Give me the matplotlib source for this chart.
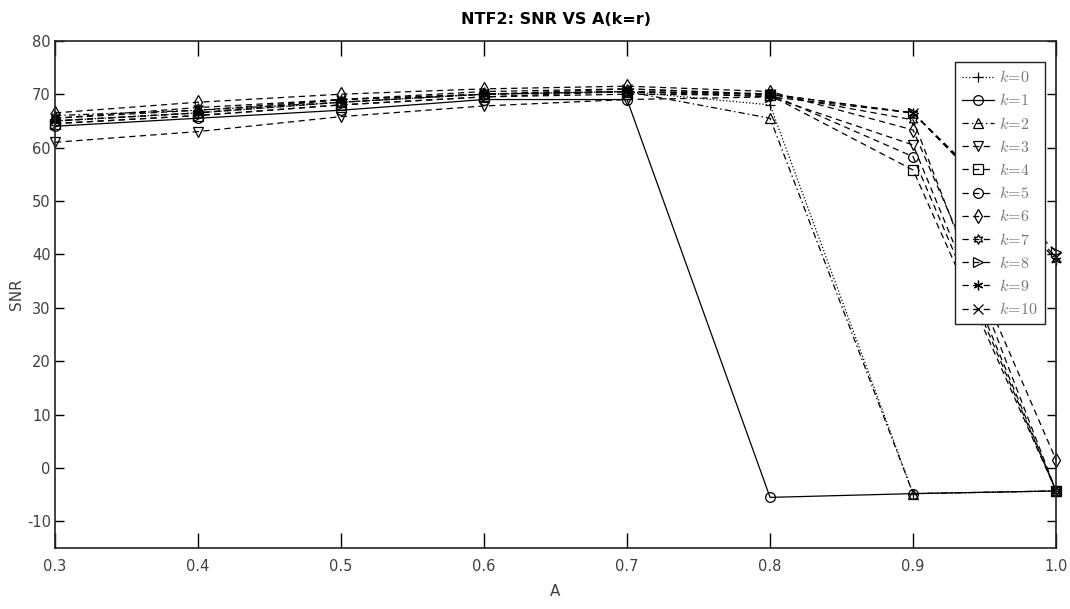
import numpy as np
import matplotlib
matplotlib.use("Agg")
import matplotlib.pyplot as plt

plt.rcParams['mathtext.fontset'] = 'cm'
plt.rcParams['axes.unicode_minus'] = False

A = [0.3, 0.4, 0.5, 0.6, 0.7, 0.8, 0.9, 1.0]

# SNR per k value
snr_k0 = [65.0, 66.5, 68.5, 70.0, 70.5, 68.0, -4.8, -4.3]
snr_k1 = [64.0, 65.5, 67.0, 69.0, 69.0, -5.5, -4.8, -4.3]
snr_k2 = [66.0, 67.0, 68.5, 70.0, 70.5, 65.5, -4.8, -4.3]
snr_k3 = [61.0, 63.0, 65.8, 67.8, 69.0, 69.5, 60.5, -4.3]
snr_k4 = [64.5, 66.0, 68.0, 69.5, 70.0, 69.8, 55.8, -4.3]
snr_k5 = [65.0, 66.5, 68.5, 70.0, 70.5, 70.0, 58.3, -4.3]
snr_k6 = [66.5, 68.5, 70.0, 71.0, 71.5, 70.5, 63.3, 1.5]
snr_k7 = [65.5, 67.5, 69.0, 70.5, 71.0, 70.0, 65.2, -4.3]
snr_k8 = [64.5, 66.0, 68.0, 69.5, 70.5, 69.5, 66.5, 40.5]
snr_k9 = [65.0, 66.5, 69.0, 70.0, 70.5, 70.0, 66.5, 39.0]
snr_k10 = [65.5, 67.0, 69.0, 70.0, 71.0, 70.0, 66.5, 39.5]

series = [snr_k0, snr_k1, snr_k2, snr_k3, snr_k4, snr_k5,
          snr_k6, snr_k7, snr_k8, snr_k9, snr_k10]
labels = [r'$k\!=\!%d$' % k for k in range(11)]

dash = (0, (5, 3.5))
styles = [
    (':', '+'), ('-', 'o'), ((0, (5, 2.5, 1.2, 2.5)), '^'), (dash, 'v'),
    (dash, 's'), (dash, 'o'), (dash, 'd'), (dash, (6, 1, 0)),
    (dash, '>'), (dash, (6, 2, 0)), (dash, 'x'),
]

fig = plt.figure(figsize=(10.70, 6.09), dpi=100)
ax = fig.add_axes([0.0514, 0.100, 0.9356, 0.833])

for y, lab, (ls, mk) in zip(series, labels, styles):
    ax.plot(A, y, color='black', linestyle=ls, linewidth=0.9, marker=mk,
            markersize=7, markerfacecolor='none', markeredgewidth=0.9,
            label=lab, clip_on=False)

ax.set_xlim(0.3, 1.0)
ax.set_ylim(-15, 80)
ax.set_xticks(np.arange(0.3, 1.01, 0.1))
ax.set_xticklabels(['0.3', '0.4', '0.5', '0.6', '0.7', '0.8', '0.9', '1.0'])
ax.set_yticks(range(-10, 81, 10))

ax.tick_params(axis='x', direction='in', length=11, width=1.0, top=True,
               labelsize=10.5, labelcolor='#404040', pad=8)
ax.tick_params(axis='y', direction='in', length=6.5, width=1.0, right=True,
               labelsize=10.5, labelcolor='#404040', pad=3)
for sp in ax.spines.values():
    sp.set_linewidth(1.2)
    sp.set_color('#222222')

ax.set_title('NTF2: SNR VS A(k=r)', fontsize=11.5, fontweight='bold', pad=12)
ax.set_xlabel('A', fontsize=11, color='#404040', labelpad=7)
ax.set_ylabel('SNR', fontsize=11, color='#404040', labelpad=2)

leg = ax.legend(loc='upper right', bbox_to_anchor=(0.989, 0.958),
                borderaxespad=0, fontsize=11.5, handlelength=2.0,
                handletextpad=0.3, labelspacing=0.45, borderpad=0.45,
                fancybox=False, framealpha=1.0, edgecolor='#222222')
leg.get_frame().set_linewidth(1.0)
for t in leg.get_texts():
    t.set_color('#777777')

fig.savefig('out.png', dpi=100)
